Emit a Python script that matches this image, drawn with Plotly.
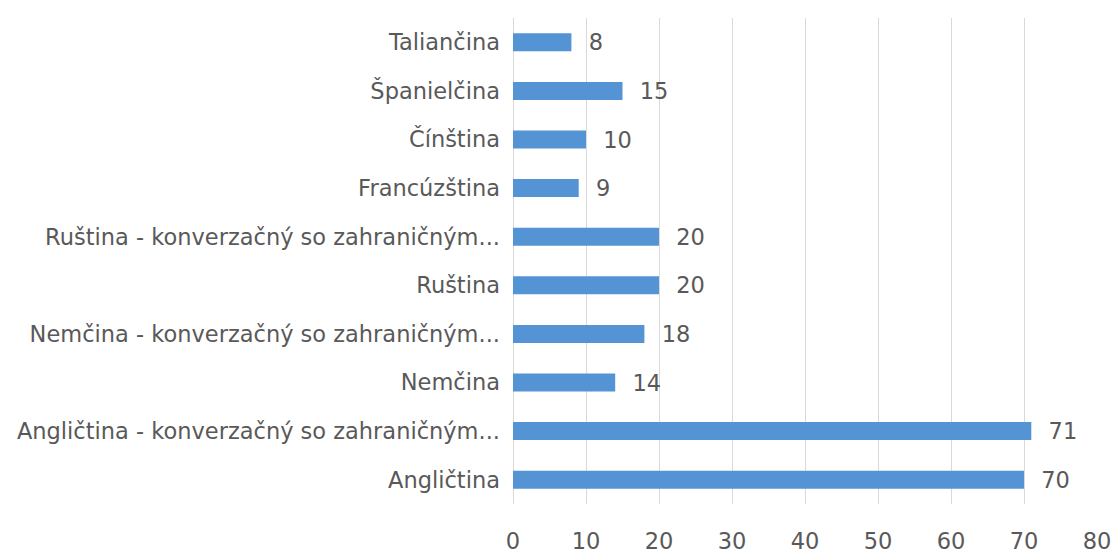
import plotly.graph_objects as go

# Data (bottom to top, as plotted)
categories = [
    "Angličtina",
    "Angličtina - konverzačný so zahraničným...",
    "Nemčina",
    "Nemčina - konverzačný so zahraničným...",
    "Ruština",
    "Ruština - konverzačný so zahraničným...",
    "Francúzština",
    "Čínština",
    "Španielčina",
    "Taliančina",
]
values = [70, 71, 14, 18, 20, 20, 9, 10, 15, 8]
x_ticks = [0, 10, 20, 30, 40, 50, 60, 70, 80]

BAR = "#5494D5"
TEXT = "#595959"
GRID = "#D9D9D9"
FONT = "DejaVu Sans, sans-serif"
SIZE = 22.5

fig = go.Figure(
    go.Bar(
        x=values,
        y=categories,
        orientation="h",
        marker=dict(color=BAR, line=dict(width=0)),
        width=0.37,
        text=values,
        texttemplate="\u00a0\u00a0%{x}",
        textposition="outside",
        constraintext="none",
        cliponaxis=False,
        textfont=dict(family=FONT, size=SIZE, color=TEXT),
        hoverinfo="x+y",
    )
)

fig.update_layout(
    width=1115,
    height=553,
    paper_bgcolor="white",
    plot_bgcolor="white",
    margin=dict(l=513, r=18, t=18, b=49, autoexpand=False),
    font=dict(family=FONT, size=SIZE, color=TEXT),
    showlegend=False,
    xaxis=dict(
        range=[0, 80],
        tickvals=x_ticks,
        showgrid=True,
        gridcolor=GRID,
        gridwidth=1,
        zeroline=True,
        zerolinecolor=GRID,
        zerolinewidth=1,
        showline=False,
        ticks="",
        ticklabelstandoff=21,
        automargin=False,
        tickfont=dict(family=FONT, size=SIZE, color=TEXT),
        fixedrange=True,
    ),
    yaxis=dict(
        type="category",
        categoryorder="array",
        categoryarray=categories,
        showgrid=False,
        zeroline=False,
        showline=False,
        ticks="",
        ticklabelstandoff=12,
        automargin=False,
        tickfont=dict(family=FONT, size=SIZE, color=TEXT),
        fixedrange=True,
    ),
)

# drop the default 8px body margin so the figure fills the window exactly
fig.write_html(
    "out.html",
    config={"displayModeBar": False},
    post_script="document.body.style.margin = '0';",
)
